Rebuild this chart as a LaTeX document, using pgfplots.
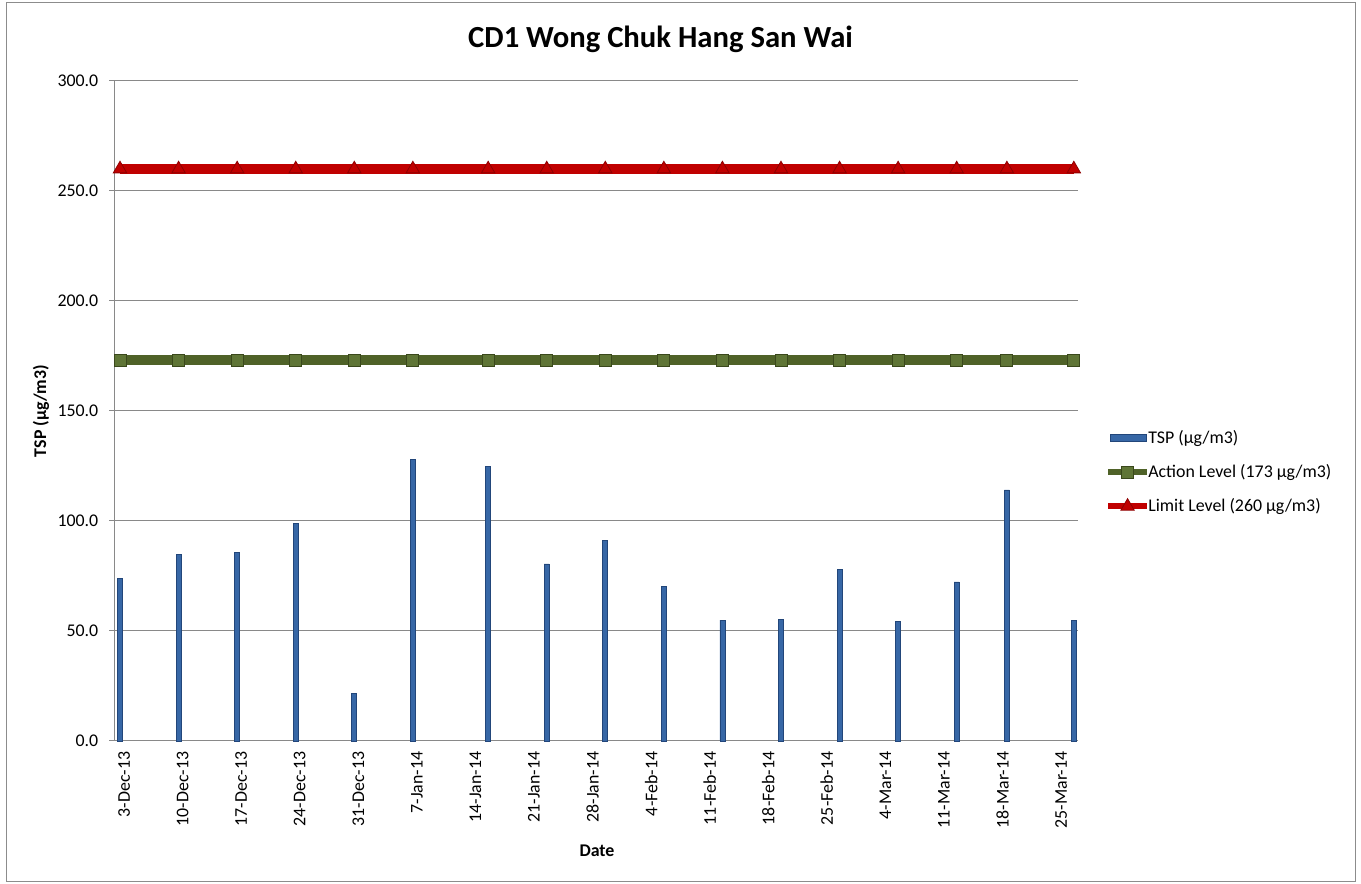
\documentclass[border=0pt]{standalone}
\usepackage{fontspec}
\setmainfont{Carlito}
\usepackage{pgfplots}
\usepackage{pgfplotstable}
\pgfplotsset{compat=1.18}
\definecolor{gridgray}{HTML}{898989}
\definecolor{framegray}{HTML}{8C8C8C}
\definecolor{barblue}{HTML}{3767A6}
\definecolor{bardark}{HTML}{22467A}
\definecolor{actgreen}{HTML}{4F6228}
\definecolor{actmark}{HTML}{5F7536}
\definecolor{actmarkd}{HTML}{3A481C}
\definecolor{limred}{HTML}{C00000}
\definecolor{limredd}{HTML}{8E0000}

\pgfplotsset{
  lineleg/.style={legend image code/.code={%
    \draw[##1, line width=4.5pt, mark=none] (-1.5pt,0pt) -- (27.5pt,0pt);
    \draw[##1, only marks] plot coordinates {(13pt,0pt)};}},
  barleg/.style={legend image code/.code={%
    \draw[fill=barblue, draw=bardark, line width=0.5pt] (0pt,-2.75pt) rectangle (27pt,2.75pt);}},
}

% day index from 3-Dec-2013, TSP value
\pgfplotstableread{
day tsp
0 74.0
7 84.8
14 85.6
21 98.9
28 21.7
35 128.0
44 124.9
51 80.5
58 91.1
65 70.1
72 54.9
79 55.3
86 78.0
93 54.2
100 72.3
106 114.1
114 54.7
}\tspdata

\pgfplotstableread{
day action limit
0 173 260
7 173 260
14 173 260
21 173 260
28 173 260
35 173 260
44 173 260
51 173 260
58 173 260
65 173 260
72 173 260
79 173 260
86 173 260
93 173 260
100 173 260
106 173 260
114 173 260
}\leveldata

\newcommand{\tickfont}{\fontsize{13.4}{16}\selectfont}

\begin{document}
\begin{tikzpicture}
\useasboundingbox (0,0) rectangle (1020.75pt,663pt);
\draw[color=framegray, line width=0.75pt] (4.5pt,1.5pt) rectangle (1016.25pt,660.75pt);
\begin{axis}[
  at={(86.25pt,107.25pt)}, anchor=south west,
  scale only axis, width=722.25pt, height=495pt,
  xmin=-0.6, xmax=114.5, ymin=0, ymax=300,
  clip=false,
  axis x line=bottom, axis y line=left,
  axis line style={-, draw=gridgray, line width=0.75pt},
  ytick={0,50,...,300},
  ymajorgrids, grid style={gridgray, line width=0.75pt},
  tick align=outside, major tick length=4.5pt,
  ytick style={gridgray, line width=0.75pt},
  xtick={0,7,...,112},
  xticklabels={3-Dec-13,10-Dec-13,17-Dec-13,24-Dec-13,31-Dec-13,7-Jan-14,14-Jan-14,21-Jan-14,28-Jan-14,4-Feb-14,11-Feb-14,18-Feb-14,25-Feb-14,4-Mar-14,11-Mar-14,18-Mar-14,25-Mar-14},
  xtick style={draw=none},
  xticklabel style={rotate=90, anchor=east, font=\tickfont, yshift=-3pt},
  yticklabel style={font=\tickfont, xshift=-4.5pt},
  /pgf/number format/.cd, fixed, fixed zerofill, precision=1, assume math mode=true,
  /pgfplots/.cd,
  title={\fontsize{23}{27}\selectfont\bfseries CD1 Wong Chuk Hang San Wai},
  title style={at={(0.5665,1.038)}, anchor=base},
  ylabel={\bfseries TSP (µg/m3)},
  ylabel style={at={(-0.0768,0.5)}, anchor=center, font=\tickfont},
  xlabel={\bfseries Date},
  xlabel style={at={(0.5005,-0.1667)}, anchor=center, font=\tickfont},
  legend style={draw=none, fill=none, at={(1.028,0.4076)}, anchor=west,
    font=\tickfont, row sep=10.5pt, inner sep=0pt, nodes={inner xsep=1.8pt}},
  legend cell align=left,
]
\addplot[ybar, bar width=3.75pt, bar shift=0pt, fill=barblue, draw=bardark, line width=0.5pt, barleg]
  table[x=day, y=tsp] {\tspdata};
\addlegendentry{\hspace{-3pt}TSP (µg/m3)}
\addplot[actgreen, line width=7.5pt, mark=square*, mark size=4.5pt,
  mark options={fill=actmark, draw=actmarkd, line width=0.6pt}, lineleg]
  table[x=day, y=action] {\leveldata};
\addlegendentry{\hspace{-3pt}Action Level (173 µg/m3)}
\addplot[limred, line width=7.5pt, mark=triangle*, mark size=5.8pt,
  mark options={fill=limred, draw=limredd, line width=0.6pt}, lineleg]
  table[x=day, y=limit] {\leveldata};
\addlegendentry{\hspace{-3pt}Limit Level (260 µg/m3)}
\end{axis}
\end{tikzpicture}
\end{document}
